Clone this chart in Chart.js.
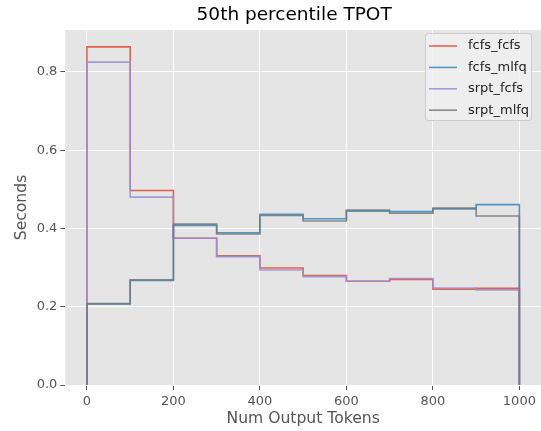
<!DOCTYPE html>
<html>
<head>
<meta charset="utf-8">
<script src="https://cdn.jsdelivr.net/npm/chart.js@4/dist/chart.umd.min.js"></script>
<style>
  html, body { margin: 0; padding: 0; background: #fff; }
</style>
</head>
<body>
<canvas id="c" width="541" height="431"></canvas>
<script>
// histogram bin edges (Num Output Tokens)
const binEdges = [0, 100, 200, 300, 400, 500, 600, 700, 800, 900, 1000];

// median TPOT per bin, seconds
const fcfsFcfs = [0.864, 0.497, 0.375, 0.330, 0.299, 0.280, 0.265, 0.270, 0.245, 0.247];
const fcfsMlfq = [0.207, 0.267, 0.408, 0.389, 0.436, 0.425, 0.444, 0.443, 0.450, 0.461];
const srptFcfs = [0.825, 0.480, 0.375, 0.328, 0.294, 0.277, 0.265, 0.272, 0.248, 0.243];
const srptMlfq = [0.208, 0.269, 0.411, 0.386, 0.433, 0.419, 0.447, 0.439, 0.452, 0.432];

const seriesNames = ['fcfs_fcfs', 'fcfs_mlfq', 'srpt_fcfs', 'srpt_mlfq'];
const xTicks = [0, 200, 400, 600, 800, 1000];
const yTicks = [0.0, 0.2, 0.4, 0.6, 0.8];

const COLORS = ['rgba(226,74,51,0.85)', 'rgba(52,138,189,0.85)', 'rgba(152,142,213,0.85)', 'rgba(119,119,119,0.85)'];
const FONT = "'DejaVu Sans', sans-serif";

// step outline like matplotlib histtype='step'
const stepPoints = (vals) => {
  const pts = [{ x: binEdges[0], y: 0 }];
  vals.forEach((v, i) => {
    pts.push({ x: binEdges[i], y: v });
    pts.push({ x: binEdges[i + 1], y: v });
  });
  pts.push({ x: binEdges[binEdges.length - 1], y: 0 });
  return pts;
};

const allSeries = [fcfsFcfs, fcfsMlfq, srptFcfs, srptMlfq];
const datasets = allSeries.map((vals, i) => ({
  label: seriesNames[i],
  data: stepPoints(vals),
  borderColor: COLORS[i],
  borderWidth: 1.6,
  pointRadius: 0,
  fill: false,
  tension: 0,
  order: allSeries.length - i, // last series on top
}));

const plotBg = {
  id: 'plotBg',
  beforeDraw(chart) {
    const { ctx, chartArea: a } = chart;
    ctx.save();
    ctx.fillStyle = '#e5e5e5';
    ctx.fillRect(a.left, a.top, a.right - a.left, a.bottom - a.top);
    ctx.restore();
  },
};

const titleText = {
  id: 'titleText',
  afterDraw(chart) {
    const { ctx, chartArea: a } = chart;
    ctx.save();
    ctx.fillStyle = '#000';
    ctx.font = `18.5px ${FONT}`;
    ctx.textAlign = 'center';
    ctx.textBaseline = 'alphabetic';
    ctx.fillText('50th percentile TPOT', (a.left + a.right) / 2 - 9, 20);
    ctx.restore();
  },
};

const legendBox = {
  id: 'legendBox',
  afterDatasetsDraw(chart) {
    const { ctx } = chart;
    ctx.save();
    ctx.fillStyle = 'rgba(240,240,240,0.8)';
    ctx.strokeStyle = '#cccccc';
    ctx.lineWidth = 1;
    ctx.beginPath();
    ctx.roundRect(425.5, 33.5, 106, 87, 2.5);
    ctx.fill();
    ctx.stroke();
    ctx.font = `13px ${FONT}`;
    ctx.textBaseline = 'middle';
    ctx.textAlign = 'left';
    seriesNames.forEach((name, i) => {
      const y = 46 + i * 21.4;
      ctx.strokeStyle = COLORS[i];
      ctx.lineWidth = 1.6;
      ctx.beginPath();
      ctx.moveTo(429, y);
      ctx.lineTo(457, y);
      ctx.stroke();
      ctx.fillStyle = '#222';
      ctx.fillText(name, 468, y);
    });
    ctx.restore();
  },
};

new Chart(document.getElementById('c'), {
  type: 'line',
  data: { datasets },
  options: {
    responsive: false,
    animation: false,
    devicePixelRatio: 1,
    layout: { padding: { top: 30, right: -1, left: 0, bottom: 0 } },
    plugins: {
      legend: { display: false },
      tooltip: { enabled: false },
    },
    scales: {
      x: {
        type: 'linear',
        min: -50,
        max: 1050,
        afterBuildTicks: (s) => { s.ticks = xTicks.map(v => ({ value: v })); },
        afterFit: (s) => { s.height = 46; },
        grid: { color: '#ffffff', lineWidth: 1, tickColor: '#555555', tickLength: 5 },
        border: { display: false },
        ticks: { color: '#555555', font: { family: FONT, size: 13 }, padding: 4, maxRotation: 0,
          callback: (v) => String(v) },
        title: { display: true, text: 'Num Output Tokens', color: '#555555',
          font: { family: FONT, size: 15.6 }, padding: { top: 0, bottom: 3 } },
      },
      y: {
        min: 0,
        max: 0.9072,
        afterBuildTicks: (s) => { s.ticks = yTicks.map(v => ({ value: v })); },
        afterFit: (s) => { s.width = 65.3; },
        grid: { color: '#ffffff', lineWidth: 1, tickColor: '#555555', tickLength: 5 },
        border: { display: false },
        ticks: { color: '#555555', font: { family: FONT, size: 13 }, padding: 3,
          callback: (v) => v.toFixed(1) },
        title: { display: true, text: 'Seconds', color: '#555555',
          font: { family: FONT, size: 15.6 }, padding: { top: 13, bottom: 0 } },
      },
    },
  },
  plugins: [plotBg, titleText, legendBox],
});
</script>
</body>
</html>
